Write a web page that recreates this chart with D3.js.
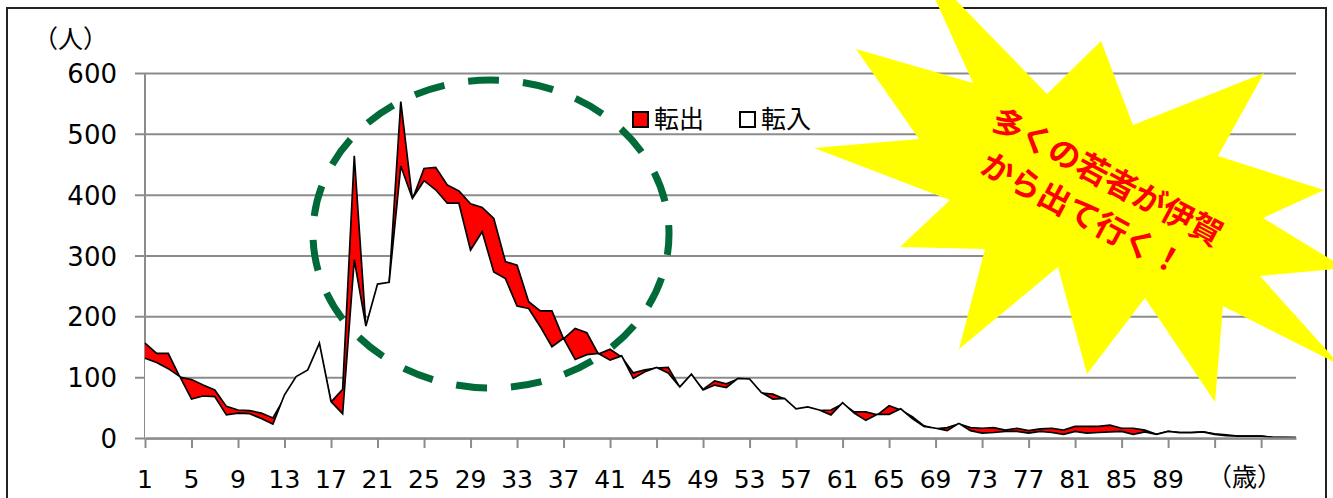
<!DOCTYPE html>
<html lang="ja">
<head>
<meta charset="utf-8">
<script src="https://cdn.jsdelivr.net/npm/d3@7"></script>
<style>
  html, body { margin: 0; padding: 0; background: #fff; }
  svg { display: block; }
</style>
</head>
<body>
<svg id="chart" width="1333" height="498"></svg>
<script>

// 年齢 ( 1 歳 〜 100 歳 )
const ages = d3.range(1, 101);

// 転出 ( 人 )
const tenshutsu = [
  156, 139, 139, 100, 96, 87, 79, 52, 46, 45,
  41, 33, 66, 95, 108, 150, 59, 80, 464, 182,
  245, 254, 553, 392, 443, 445, 416, 406, 385, 379,
  361, 290, 284, 224, 209, 209, 163, 180, 173, 138,
  146, 133, 107, 112, 115, 116, 83, 102, 80, 94,
  89, 97, 96, 74, 72, 64, 47, 50, 45, 46,
  56, 43, 43, 38, 53, 46, 35, 20, 15, 17,
  23, 17, 16, 17, 13, 16, 12, 15, 16, 13,
  19, 19, 19, 21, 16, 16, 13, 6, 11, 9,
  9, 10, 7, 5, 3, 3, 3, 1, 0.5, 0.5
];

// 転入 ( 人 )
const tennyu = [
  131, 124, 114, 101, 64, 69, 68, 38, 41, 40,
  32, 23, 71, 101, 112, 156, 60, 40, 293, 184,
  253, 256, 447, 394, 423, 408, 386, 386, 309, 339,
  273, 262, 217, 213, 183, 150, 164, 129, 137, 139,
  128, 135, 98, 109, 116, 107, 84, 105, 79, 87,
  83, 98, 97, 75, 64, 65, 48, 51, 46, 38,
  58, 41, 29, 39, 39, 48, 32, 19, 16, 12,
  24, 12, 8, 9, 11, 11, 8, 11, 9, 6,
  11, 8, 9, 10, 11, 6, 10, 6, 11, 9,
  9, 10, 6, 4, 3, 3, 3, 1, 1, 0.5
];

// 目盛り
const yTicks = [0, 100, 200, 300, 400, 500, 600];
const xTickAges = [1, 5, 9, 13, 17, 21, 25, 29, 33, 37, 41, 45, 49,
  53, 57, 61, 65, 69, 73, 77, 81, 85, 89, 93, 97];
const xTickLabels = ["1", "5", "9", "13", "17", "21", "25", "29", "33",
  "37", "41", "45", "49", "53", "57", "61", "65", "69", "73", "77",
  "81", "85", "89"];

const legendNames = ["転出", "転入"];
const calloutLines = ["多くの若者が伊賀", "から出て行く！"];

// 吹き出し ( 爆発型 ) の頂点
const burst = [
  [918, -39], [1047, 94], [1101, 41], [1133, 125], [1264, 73],
  [1218, 156], [1324, 190], [1263, 218], [1345, 268], [1260, 276],
  [1340, 365], [1223, 306], [1215, 402], [1145, 298], [1087, 374],
  [1058, 267], [959, 349], [985, 249], [900, 247], [950, 200],
  [814, 148], [919, 139], [856, 49], [973, 83]
];

const svg = d3.select("#chart");
const margin = {top: 73, right: 1296, bottom: 438, left: 145};
const numFont = "'DejaVu Sans', Verdana, sans-serif";
const jpFont = "'Noto Sans CJK JP', sans-serif";

// 外枠
svg.append("rect")
  .attr("x", 7).attr("y", 8)
  .attr("width", 1319).attr("height", 520)
  .attr("fill", "#fff")
  .attr("stroke", "#222")
  .attr("stroke-width", 2);

// スケール
const x = d3.scaleLinear()
  .domain([1, 100])
  .range([margin.left, margin.right]);
const y = d3.scaleLinear()
  .domain([0, 600])
  .range([margin.bottom, margin.top]);

// 横の罫線 ( 左に目盛りとしてはみ出す )
const yAxis = svg.append("g")
  .attr("transform", `translate(${margin.left},0)`)
  .call(d3.axisLeft(y)
    .tickValues(yTicks)
    .tickSize(-(margin.right - margin.left))
    .tickSizeOuter(0)
    .tickFormat(""));
yAxis.selectAll("line")
  .attr("x1", -10)
  .style("stroke", "#8c8c8c")
  .style("stroke-width", "2px");
yAxis.select("path").remove();

// 縦軸の線
svg.append("line")
  .attr("x1", margin.left).attr("x2", margin.left)
  .attr("y1", y(600)).attr("y2", y(0))
  .style("stroke", "#8c8c8c")
  .style("stroke-width", "2px");

// 縦軸のラベル
svg.append("g").selectAll("text")
  .data(yTicks)
  .join("text")
  .attr("x", 117)
  .attr("y", d => y(d) + 10)
  .attr("text-anchor", "end")
  .style("font-family", numFont)
  .style("font-size", "26px")
  .style("fill", "#000")
  .text(d => d);

// 面 ( 転出 → 転入 の順に重ねる )
const area = d3.area()
  .x((d, i) => x(ages[i]))
  .y0(y(0))
  .y1(d => y(d));
const line = d3.line()
  .x((d, i) => x(ages[i]))
  .y(d => y(d));

[[tenshutsu, "#ff0000"], [tennyu, "#ffffff"]].forEach(([vals, color]) => {
  svg.append("path")
    .datum(vals)
    .attr("d", area)
    .attr("fill", color);
  svg.append("path")
    .datum(vals)
    .attr("d", line)
    .attr("fill", "none")
    .attr("stroke", "#000")
    .attr("stroke-width", 1.7)
    .attr("stroke-linejoin", "miter");
});

// 横軸
const xAxis = svg.append("g")
  .attr("transform", `translate(0,${margin.bottom})`)
  .call(d3.axisBottom(x)
    .tickValues(xTickAges)
    .tickSize(10)
    .tickSizeOuter(0)
    .tickFormat(""));
xAxis.selectAll("line")
  .style("stroke", "#8c8c8c")
  .style("stroke-width", "2px");
xAxis.select("path")
  .style("stroke", "#8c8c8c")
  .style("stroke-width", "2.5px");

svg.append("g").selectAll("text")
  .data(xTickLabels)
  .join("text")
  .attr("x", d => x(+d))
  .attr("y", 488)
  .attr("text-anchor", "middle")
  .style("font-family", numFont)
  .style("font-size", "25px")
  .style("fill", "#000")
  .text(d => d);

// 単位
svg.append("text")
  .attr("x", 33).attr("y", 48)
  .style("font-family", jpFont)
  .style("font-size", "25px")
  .text("（人）");
svg.append("text")
  .attr("x", 1207).attr("y", 486)
  .style("font-family", jpFont)
  .style("font-size", "25px")
  .text("（歳）");

// 凡例
const legend = svg.append("g");
legendNames.forEach((name, i) => {
  let lx = [633, 740][i];
  legend.append("rect")
    .attr("x", lx).attr("y", 112)
    .attr("width", 15).attr("height", 15)
    .attr("fill", i === 0 ? "#ff0000" : "#fff")
    .attr("stroke", "#000")
    .attr("stroke-width", 2);
  legend.append("text")
    .attr("x", lx + 21).attr("y", 128)
    .style("font-family", jpFont)
    .style("font-size", "25px")
    .text(name);
});

// 点線の丸
svg.append("ellipse")
  .attr("cx", 491).attr("cy", 234)
  .attr("rx", 178).attr("ry", 154)
  .attr("fill", "none")
  .attr("stroke", "#006b38")
  .attr("stroke-width", 7)
  .attr("stroke-dasharray", "31 24")
  .attr("stroke-dashoffset", 10);

// 吹き出し
svg.append("polygon")
  .attr("points", burst.map(p => p.join(",")).join(" "))
  .attr("fill", "#ffff00");

const callout = svg.append("g")
  .attr("transform", "translate(1097,196) rotate(28)");
callout.selectAll("text")
  .data(calloutLines)
  .join("text")
  .attr("x", (d, i) => i === 0 ? 0 : -4)
  .attr("y", (d, i) => i * 44 - 10)
  .attr("text-anchor", "middle")
  .style("font-family", jpFont)
  .style("font-weight", "700")
  .style("font-size", "32px")
  .style("fill", "#ff0000")
  .text(d => d);

</script>
</body>
</html>
